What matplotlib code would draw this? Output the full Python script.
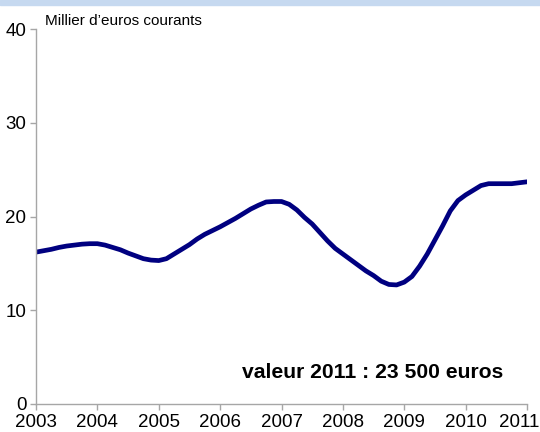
import matplotlib
matplotlib.use("Agg")
import matplotlib.pyplot as plt
from matplotlib.patches import Rectangle
from matplotlib.transforms import ScaledTranslation

# Data (readings every 1/8 year, thousand euros, current)
years = [2003.000, 2003.125, 2003.250, 2003.375, 2003.500, 2003.625, 2003.750, 2003.875,
         2004.000, 2004.125, 2004.250, 2004.375, 2004.500, 2004.625, 2004.750, 2004.875,
         2005.000, 2005.125, 2005.250, 2005.375, 2005.500, 2005.625, 2005.750, 2005.875,
         2006.000, 2006.125, 2006.250, 2006.375, 2006.500, 2006.625, 2006.750, 2006.875,
         2007.000, 2007.125, 2007.250, 2007.375, 2007.500, 2007.625, 2007.750, 2007.875,
         2008.000, 2008.125, 2008.250, 2008.375, 2008.500, 2008.625, 2008.750, 2008.875,
         2009.000, 2009.125, 2009.250, 2009.375, 2009.500, 2009.625, 2009.750, 2009.875,
         2010.000, 2010.125, 2010.250, 2010.375, 2010.500, 2010.625, 2010.750, 2010.875,
         2011.000]
values = [16.2, 16.35, 16.5, 16.7, 16.85, 16.95, 17.05, 17.1,
          17.1, 16.95, 16.7, 16.45, 16.1, 15.8, 15.5, 15.35,
          15.3, 15.5, 16.0, 16.5, 17.0, 17.6, 18.1, 18.5,
          18.9, 19.35, 19.8, 20.3, 20.8, 21.2, 21.55, 21.6,
          21.6, 21.3, 20.7, 19.9, 19.2, 18.3, 17.4, 16.6,
          16.0, 15.4, 14.8, 14.2, 13.7, 13.1, 12.75, 12.7,
          13.0, 13.6, 14.7, 16.0, 17.5, 19.0, 20.6, 21.7,
          22.3, 22.8, 23.3, 23.5, 23.5, 23.5, 23.5, 23.6,
          23.7]
x_ticks = [2003, 2004, 2005, 2006, 2007, 2008, 2009, 2010, 2011]
y_ticks = [0, 10, 20, 30, 40]
unit_label = "Millier d\u2019euros courants"
note = "valeur 2011 : 23 500 euros"

plt.rcParams['font.family'] = ['Liberation Sans', 'DejaVu Sans']

fig = plt.figure(figsize=(5.4, 4.32), dpi=100)
fig.patches.append(Rectangle((0, 432 - 5), 540, 5, transform=None,
                             color='#c6d9f0', zorder=0))
ax = fig.add_axes([36 / 540, 28 / 432, (527 - 36) / 540, (404 - 29) / 432])

ax.plot(years, values, color='#000080', lw=3.4, solid_capstyle='round',
        solid_joinstyle='round')

ax.set_xlim(2003, 2011)
ax.set_ylim(0, 40)
ax.set_xticks(x_ticks)
ax.set_xticklabels([str(y) for y in x_ticks])
ax.set_yticks(y_ticks)

for s in ['top', 'right']:
    ax.spines[s].set_visible(False)
for s in ['left', 'bottom']:
    ax.spines[s].set_color('#a6a6a6')
    ax.spines[s].set_linewidth(1.0)

ax.tick_params(axis='both', colors='#a6a6a6', labelcolor='black',
               labelsize=13.5, length=4, width=1, direction='out')
ax.tick_params(axis='y', pad=3)
ax.tick_params(axis='x', pad=3)

# keep the last year label inside the figure, as in the reference
last = ax.get_xticklabels()[-1]
last.set_transform(last.get_transform() +
                   ScaledTranslation(-8 / 100, 0, fig.dpi_scale_trans))

fig.text(45 / 540, 1 - 21 / 432, unit_label, fontsize=11, va='center',
         ha='left')
fig.text(242 / 540, 1 - 372 / 432, note, fontsize=15.2, fontweight='bold',
         va='center', ha='left')

fig.savefig('out.png', dpi=100)
